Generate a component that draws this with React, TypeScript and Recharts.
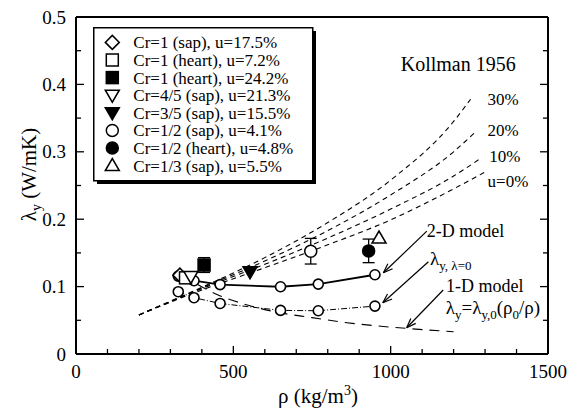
import React from 'react';
import {
  ComposedChart,
  Line,
  Scatter,
  ErrorBar,
  XAxis,
  YAxis,
  ReferenceLine,
  ReferenceDot,
  Label,
} from 'recharts';

const FONT = 'Liberation Serif';
const TXT = { fontFamily: FONT };
const FONT_CSS =
  "#root text, #root tspan, #root svg { font-family: 'Liberation Serif', 'Times New Roman', serif !important; }";

const X_TICKS = [0, 100, 200, 300, 400, 500, 600, 700, 800, 900, 1000, 1100, 1200, 1300, 1400, 1500];
const X_TICK_LABELS = ['0', '500', '1000', '1500'];
const Y_TICKS = [0, 0.05, 0.1, 0.15, 0.2, 0.25, 0.3, 0.35, 0.4, 0.45, 0.5];
const Y_TICK_LABELS = ['0', '0.1', '0.2', '0.3', '0.4', '0.5'];

// Kollman 1956 curves
const K0_RHO = [200, 400, 600, 800, 1000, 1200, 1300];
const K0_LAM = [0.058, 0.095, 0.128, 0.162, 0.199, 0.245, 0.27];
const K10_RHO = [200, 400, 600, 800, 1000, 1200, 1282];
const K10_LAM = [0.058, 0.097, 0.133, 0.172, 0.215, 0.264, 0.289];
const K20_RHO = [200, 400, 600, 800, 1000, 1200, 1273];
const K20_LAM = [0.058, 0.098, 0.138, 0.183, 0.236, 0.3, 0.331];
const K30_RHO = [200, 400, 600, 800, 1000, 1200, 1254];
const K30_LAM = [0.058, 0.099, 0.143, 0.195, 0.258, 0.345, 0.378];

// models
const MODEL_RHO = [325, 375, 458, 650, 770, 950];
const MODEL_2D = [0.1156, 0.1087, 0.103, 0.0998, 0.1037, 0.1176];
const MODEL_L0 = [0.0924, 0.0835, 0.075, 0.0647, 0.0642, 0.0711];
const MODEL_1D_RHO = [340, 450, 550, 650, 750, 850, 950, 1050, 1200];
const MODEL_1D = [0.116, 0.088, 0.072, 0.061, 0.054, 0.047, 0.042, 0.038, 0.033];

// measurements
const LEGEND_LABELS = [
  'Cr=1 (sap), u=17.5%',
  'Cr=1 (heart), u=7.2%',
  'Cr=1 (heart), u=24.2%',
  'Cr=4/5 (sap), u=21.3%',
  'Cr=3/5 (sap), u=15.5%',
  'Cr=1/2 (sap), u=4.1%',
  'Cr=1/2 (heart), u=4.8%',
  'Cr=1/3 (sap), u=5.5%',
];
const MARKERS = ['diamond', 'square', 'squareFilled', 'triDown', 'triDownFilled', 'circle', 'circleFilled', 'triUp'];
const MEAS_RHO = [330, 348, 407, 365, 553, 746, 930, 963];
const MEAS_LAM = [0.117, 0.113, 0.132, 0.115, 0.122, 0.1525, 0.153, 0.172];
const MEAS_ERR = [0, 0, 0.011, 0, 0, 0.019, 0.0175, 0];
const OPEN_IDX = 5; // hollow circle: its bar must stop at the circle's edge
const OPEN_R = 0.009; // circle radius in λ units
const CAP_HALF = 19; // cap half-width in ρ units

const pts = (xs: number[], ys: number[]) => xs.map((x, i) => ({ rho: x, lam: ys[i] }));

function Marker({ kind, cx, cy }: { kind: string; cx: number; cy: number }) {
  const s = { stroke: '#000', strokeWidth: 1.5 };
  const fill = kind.endsWith('Filled') ? '#000' : '#fff';
  if (kind.startsWith('circle')) return <circle cx={cx} cy={cy} r={6} fill={fill} {...s} />;
  if (kind.startsWith('square')) return <rect x={cx - 6} y={cy - 6} width={12} height={12} fill={fill} {...s} />;
  if (kind === 'diamond')
    return <polygon points={`${cx},${cy - 7} ${cx + 7},${cy} ${cx},${cy + 7} ${cx - 7},${cy}`} fill={fill} {...s} />;
  if (kind.startsWith('triDown'))
    return <polygon points={`${cx - 7},${cy - 5} ${cx + 7},${cy - 5} ${cx},${cy + 7}`} fill={fill} {...s} />;
  return <polygon points={`${cx - 7},${cy + 5} ${cx + 7},${cy + 5} ${cx},${cy - 7}`} fill={fill} {...s} />;
}

function ModelDot(p: any) {
  return <circle key={p.index} cx={p.cx} cy={p.cy} r={5} fill="#fff" stroke="#000" strokeWidth={1.6} />;
}

function BottomTick(p: any) {
  const v = p.payload.value;
  const major = v % 500 === 0;
  return (
    <g>
      <line x1={p.x} x2={p.x} y1={p.y} y2={p.y - (major ? 8 : 5)} stroke="#000" strokeWidth={1.3} />
      {major && (
        <text x={p.x} y={p.y + 24} textAnchor="middle" fontSize={19} fontFamily={FONT} style={TXT} fill="#000">
          {X_TICK_LABELS[v / 500]}
        </text>
      )}
    </g>
  );
}

function TopTick(p: any) {
  const major = p.payload.value % 500 === 0;
  return <line x1={p.x} x2={p.x} y1={p.y} y2={p.y + (major ? 8 : 5)} stroke="#000" strokeWidth={1.3} />;
}

function LeftTick(p: any) {
  const k = Math.round(p.payload.value * 100);
  const major = k % 10 === 0;
  return (
    <g>
      <line x1={p.x} x2={p.x + (major ? 8 : 5)} y1={p.y} y2={p.y} stroke="#000" strokeWidth={1.3} />
      {major && (
        <text x={p.x - 10} y={p.y + 6.5} textAnchor="end" fontSize={19} fontFamily={FONT} style={TXT} fill="#000">
          {Y_TICK_LABELS[k / 10]}
        </text>
      )}
    </g>
  );
}

function RightTick(p: any) {
  const major = Math.round(p.payload.value * 100) % 10 === 0;
  return <line x1={p.x} x2={p.x - (major ? 8 : 5)} y1={p.y} y2={p.y} stroke="#000" strokeWidth={1.3} />;
}

function XTitle(props: any) {
  const vb = props.viewBox;
  return (
    <text
      x={vb.x + vb.width / 2 + 6}
      y={vb.y + 49}
      textAnchor="middle"
      fontSize={21}
      fontFamily={FONT}
      style={TXT}
      fill="#000"
    >
      ρ (kg/m
      <tspan dy={-8} fontSize={14}>3</tspan>
      <tspan dy={8}>)</tspan>
    </text>
  );
}

function YTitle(props: any) {
  const vb = props.viewBox;
  const cx = vb.x + 10;
  const cy = vb.y + vb.height / 2 - 11;
  return (
    <text
      x={cx}
      y={cy}
      transform={`rotate(-90 ${cx} ${cy})`}
      textAnchor="middle"
      fontSize={21}
      fontFamily={FONT}
      style={TXT}
      fill="#000"
    >
      λ<tspan dy={5} fontSize={14}>y</tspan>
      <tspan dy={-5}> (W/mK)</tspan>
    </text>
  );
}

function Arrow(p: any) {
  const { x1, y1, x2, y2 } = p;
  const a = Math.atan2(y2 - y1, x2 - x1);
  const L = 10;
  const w = 0.35;
  return (
    <g stroke="#000" strokeWidth={1.2} fill="none">
      <line x1={x1} y1={y1} x2={x2} y2={y2} />
      <line x1={x2} y1={y2} x2={x2 - L * Math.cos(a - w)} y2={y2 - L * Math.sin(a - w)} />
      <line x1={x2} y1={y2} x2={x2 - L * Math.cos(a + w)} y2={y2 - L * Math.sin(a + w)} />
    </g>
  );
}

const ARROW_FROM_RHO = [1115, 1120, 1167];
const ARROW_FROM_LAM = [0.1823, 0.1368, 0.0949];
const ARROW_TO_RHO = [977, 975, 1051];
const ARROW_TO_LAM = [0.1205, 0.076, 0.039];

const t = (txt: string, size: number) => (p: any) => (
  <text x={p.cx} y={p.cy} fontSize={size} fontFamily={FONT} style={TXT} fill="#000">
    {txt}
  </text>
);

function LambdaL0(p: any) {
  return (
    <text x={p.cx} y={p.cy} fontSize={19} fontFamily={FONT} style={TXT} fill="#000">
      λ<tspan dy={5} fontSize={13}>y, λ=0</tspan>
    </text>
  );
}

function Lambda1D(p: any) {
  return (
    <text x={p.cx} y={p.cy} fontSize={19} fontFamily={FONT} style={TXT} fill="#000">
      λ<tspan dy={5} fontSize={13}>y</tspan>
      <tspan dy={-5}>=λ</tspan>
      <tspan dy={5} fontSize={13}>y,0</tspan>
      <tspan dy={-5}>(ρ</tspan>
      <tspan dy={5} fontSize={13}>0</tspan>
      <tspan dy={-5}>/ρ)</tspan>
    </text>
  );
}

function LegendBox() {
  return (
    <svg width={230} height={162} style={{ position: 'absolute', left: 84.7, top: 19.3 }}>
      <rect x={4} y={4} width={219} height={153} fill="#000" />
      <rect x={0.75} y={0.75} width={219} height={153} fill="#fff" stroke="#000" strokeWidth={1.5} />
      {LEGEND_LABELS.map((lab, i) => {
        const cy = 15.4 + i * 17.6;
        return (
          <g key={lab}>
            <Marker kind={MARKERS[i]} cx={19.3} cy={cy} />
            <text x={40.3} y={cy + 6} fontSize={17} fontFamily={FONT} style={TXT} fill="#000">
              {lab}
            </text>
          </g>
        );
      })}
    </svg>
  );
}

// hollow-circle error bar pieces, all taken from the measurement arrays
const oRho = MEAS_RHO[OPEN_IDX];
const oLam = MEAS_LAM[OPEN_IDX];
const oErr = MEAS_ERR[OPEN_IDX];
const OPEN_BAR_SEGMENTS = [
  [{ x: oRho, y: oLam + oErr }, { x: oRho, y: oLam + OPEN_R }],
  [{ x: oRho, y: oLam - OPEN_R }, { x: oRho, y: oLam - oErr }],
  [{ x: oRho - CAP_HALF, y: oLam + oErr }, { x: oRho + CAP_HALF, y: oLam + oErr }],
  [{ x: oRho - CAP_HALF, y: oLam - oErr }, { x: oRho + CAP_HALF, y: oLam - oErr }],
];

export default function App() {
  return (
    <div style={{ position: 'relative', width: 570, height: 404, fontFamily: FONT }}>
      <style>{FONT_CSS}</style>
      <ComposedChart width={570} height={404} margin={{ top: 8, right: 20, bottom: 28, left: 18 }} style={TXT}>
        <XAxis
          type="number"
          dataKey="rho"
          domain={[0, 1500]}
          ticks={X_TICKS}
          interval={0}
          tickSize={0}
          tickMargin={0}
          tick={(p: any) => <BottomTick {...p} />}
          tickLine={false}
          height={30}
          axisLine={{ stroke: '#000', strokeWidth: 2 }}
          allowDataOverflow
        >
          <Label content={XTitle} />
        </XAxis>
        <XAxis
          xAxisId="top"
          orientation="top"
          type="number"
          domain={[0, 1500]}
          ticks={X_TICKS}
          interval={0}
          tickSize={0}
          tickMargin={0}
          tick={(p: any) => <TopTick {...p} />}
          tickLine={false}
          height={1}
          axisLine={{ stroke: '#000', strokeWidth: 2 }}
          allowDataOverflow
        />
        <YAxis
          type="number"
          domain={[0, 0.5]}
          ticks={Y_TICKS}
          interval={0}
          tickSize={0}
          tickMargin={0}
          tick={(p: any) => <LeftTick {...p} />}
          tickLine={false}
          width={50}
          axisLine={{ stroke: '#000', strokeWidth: 2 }}
          allowDataOverflow
        >
          <Label content={YTitle} />
        </YAxis>
        <YAxis
          yAxisId="right"
          orientation="right"
          type="number"
          domain={[0, 0.5]}
          ticks={Y_TICKS}
          interval={0}
          tickSize={0}
          tickMargin={0}
          tick={(p: any) => <RightTick {...p} />}
          tickLine={false}
          width={10}
          axisLine={{ stroke: '#000', strokeWidth: 2 }}
          allowDataOverflow
        />

        {[pts(K0_RHO, K0_LAM), pts(K10_RHO, K10_LAM), pts(K20_RHO, K20_LAM), pts(K30_RHO, K30_LAM)].map((d, i) => (
          <Line
            key={'k' + i}
            data={d}
            dataKey="lam"
            type="monotone"
            stroke="#000"
            strokeWidth={1.1}
            strokeDasharray="5 4"
            dot={false}
            isAnimationActive={false}
          />
        ))}
        <Line
          data={pts(MODEL_1D_RHO, MODEL_1D)}
          dataKey="lam"
          type="monotone"
          stroke="#000"
          strokeWidth={1.1}
          strokeDasharray="10 7"
          dot={false}
          isAnimationActive={false}
        />
        <Line
          data={pts(MODEL_RHO, MODEL_L0)}
          dataKey="lam"
          type="linear"
          stroke="#000"
          strokeWidth={1}
          strokeDasharray="6 2 1 2"
          dot={ModelDot}
          isAnimationActive={false}
        />
        <Line
          data={pts(MODEL_RHO, MODEL_2D)}
          dataKey="lam"
          type="linear"
          stroke="#000"
          strokeWidth={1.8}
          dot={ModelDot}
          isAnimationActive={false}
        />

        {MARKERS.map((m, i) => (
          <Scatter
            key={m}
            data={[{ rho: MEAS_RHO[i], lam: MEAS_LAM[i], err: MEAS_ERR[i] }]}
            dataKey="lam"
            shape={(p: any) => <Marker kind={m} cx={p.cx} cy={p.cy} />}
            isAnimationActive={false}
          >
            {MEAS_ERR[i] > 0 && i !== OPEN_IDX && (
              <ErrorBar dataKey="err" direction="y" width={6} stroke="#000" strokeWidth={1.3} />
            )}
          </Scatter>
        ))}
        {OPEN_BAR_SEGMENTS.map((seg, i) => (
          <ReferenceLine key={'eb' + i} segment={seg} stroke="#000" strokeWidth={1.3} />
        ))}

        {ARROW_FROM_RHO.map((r, i) => (
          <ReferenceLine
            key={'a' + i}
            segment={[
              { x: r, y: ARROW_FROM_LAM[i] },
              { x: ARROW_TO_RHO[i], y: ARROW_TO_LAM[i] },
            ]}
            shape={Arrow}
          />
        ))}

        <ReferenceDot x={1032} y={0.4205} r={0} shape={t('Kollman 1956', 20)} />
        <ReferenceDot x={1308} y={0.369} r={0} shape={t('30%', 17)} />
        <ReferenceDot x={1308} y={0.323} r={0} shape={t('20%', 17)} />
        <ReferenceDot x={1313} y={0.2846} r={0} shape={t('10%', 17)} />
        <ReferenceDot x={1308} y={0.2476} r={0} shape={t('u=0%', 17)} />
        <ReferenceDot x={1115} y={0.1734} r={0} shape={t('2-D model', 18)} />
        <ReferenceDot x={1125} y={0.132} r={0} shape={LambdaL0} />
        <ReferenceDot x={1176} y={0.0919} r={0} shape={t('1-D model', 18)} />
        <ReferenceDot x={1175} y={0.0593} r={0} shape={Lambda1D} />
      </ComposedChart>
      <LegendBox />
    </div>
  );
}
